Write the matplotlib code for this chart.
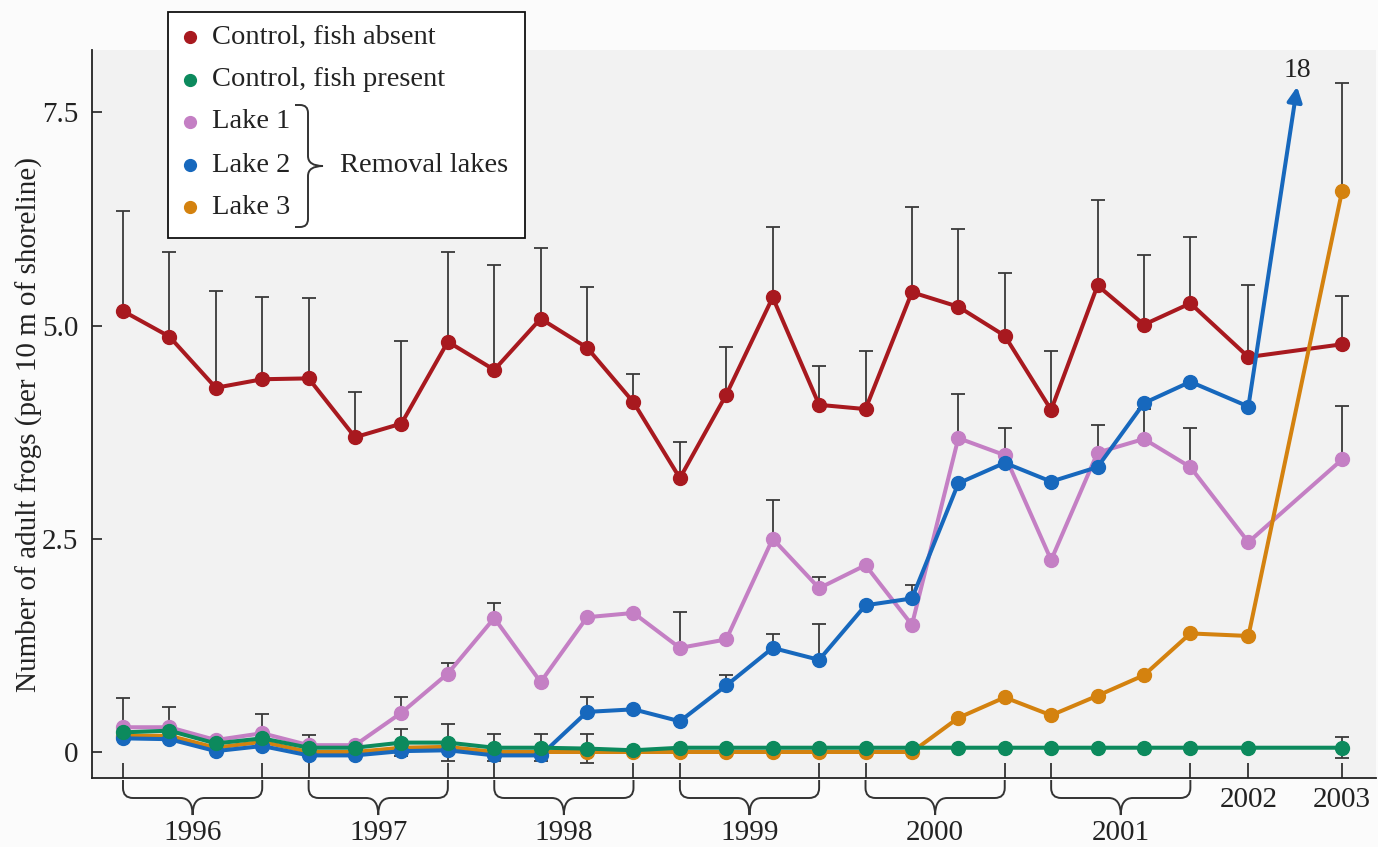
import numpy as np
import matplotlib
matplotlib.use("Agg")
import matplotlib.pyplot as plt
from matplotlib.path import Path
from matplotlib.patches import PathPatch, Rectangle

plt.rcParams['font.family'] = ['Liberation Serif', 'DejaVu Serif']

# survey positions along the time axis (4 surveys a year 1996-2001, then 2002, 2003)
surveys_per_year = [4, 4, 4, 4, 4, 4, 1, 1]
years = ['1996', '1997', '1998', '1999', '2000', '2001', '2002', '2003']
survey_x = list(range(24)) + [24.25, 26.27]

nan = np.nan

# Control, fish absent
ctrl_absent = [5.17, 4.87, 4.27, 4.37, 4.38, 3.69, 3.85, 4.81, 4.48, 5.08, 4.74, 4.10, 3.21,
               4.19, 5.33, 4.07, 4.02, 5.39, 5.22, 4.88, 4.01, 5.47, 5.01, 5.26, 4.63, 4.78]
ctrl_absent_top = [6.34, 5.86, 5.40, 5.33, 5.32, 4.22, 4.82, 5.86, 5.71, 5.91, 5.45, 4.43, 3.63,
                   4.75, 6.16, 4.52, 4.70, 6.39, 6.13, 5.61, 4.70, 6.47, 5.83, 6.04, 5.48, 5.35]

# Control, fish present
ctrl_present = [0.23, 0.25, 0.10, 0.16, 0.05, 0.05, 0.11, 0.11, 0.05, 0.05, 0.04, 0.02, 0.05,
                0.05, 0.05, 0.05, 0.05, 0.05, 0.05, 0.05, 0.05, 0.05, 0.05, 0.05, 0.05, 0.05]
ctrl_present_se = [nan, nan, nan, nan, nan, nan, 0.16, 0.22, 0.16, 0.16, 0.17, nan, nan,
                   nan, nan, nan, nan, nan, nan, nan, nan, nan, nan, nan, nan, 0.12]

# Removal lakes
lake1 = [0.29, 0.29, 0.14, 0.22, 0.08, 0.08, 0.46, 0.92, 1.57, 0.82, 1.58, 1.63, 1.22,
         1.32, 2.50, 1.92, 2.19, 1.49, 3.68, 3.48, 2.25, 3.51, 3.67, 3.34, 2.46, 3.43]
lake1_top = [0.63, 0.53, nan, 0.44, 0.20, nan, 0.65, 1.04, 1.75, nan, nan, nan, 1.64,
             nan, 2.95, 2.05, nan, nan, 4.20, 3.80, nan, 3.83, 4.02, 3.80, nan, 4.06]

lake2 = [0.16, 0.15, 0.01, 0.07, -0.04, -0.04, 0.01, 0.02, -0.04, -0.04, 0.47, 0.50, 0.36,
         0.78, 1.22, 1.08, 1.72, 1.80, 3.15, 3.39, 3.17, 3.34, 4.09, 4.34, 4.05, 18]
lake2_top = [nan, nan, nan, nan, nan, nan, nan, nan, nan, nan, 0.65, nan, nan,
             0.90, 1.38, 1.50, nan, 1.96, nan, nan, nan, nan, nan, nan, nan, nan]

lake3 = [0.19, 0.19, 0.05, 0.12, 0.00, 0.00, 0.05, 0.06, 0.00, 0.00, 0.00, 0.00, 0.00,
         0.00, 0.00, 0.00, 0.00, 0.00, 0.40, 0.64, 0.43, 0.66, 0.90, 1.39, 1.36, 6.58]
lake3_top = [nan] * 25 + [7.84]

RED = '#a8191f'
GREEN = '#0c8a5d'
PINK = '#c47fc4'
BLUE = '#1768bd'
ORANGE = '#d4820f'
ERR = '#3a3a3a'

W, H = 1378, 847
fig = plt.figure(figsize=(W / 100, H / 100), dpi=100, facecolor='#fbfbfb')
ax = fig.add_axes([92 / W, 1 - 778 / H, (1376 - 92) / W, (778 - 50) / H])
ax.set_facecolor('#f2f2f2')
ax.set_xlim(-0.668, 27.0)
ax.set_ylim(-0.305, 8.23)

x = np.array(survey_x)


def err_up(vals, tops, z):
    vals, tops = np.array(vals), np.array(tops)
    m = ~np.isnan(tops)
    ax.errorbar(x[m], vals[m], yerr=[np.zeros(m.sum()), tops[m] - vals[m]], fmt='none',
                ecolor=ERR, elinewidth=1.3, capsize=5, capthick=1.3, zorder=z)


err_up(ctrl_absent, ctrl_absent_top, 1)
err_up(lake1, lake1_top, 1)
err_up(lake2, lake2_top, 1)
err_up(lake3, lake3_top, 1)
se = np.array(ctrl_present_se)
m = ~np.isnan(se)
ax.errorbar(x[m], np.array(ctrl_present)[m], yerr=se[m], fmt='none', ecolor=ERR,
            elinewidth=1.3, capsize=5, capthick=1.3, zorder=1)

style = dict(lw=2.9, marker='o', ms=10, solid_joinstyle='round')
ax.plot(x, ctrl_absent, color=RED, zorder=2, **style)
ax.plot(x, lake1, color=PINK, zorder=3, **style)
ax.plot(x, lake3, color=ORANGE, zorder=4, **style)
ax.plot(x[:-1], lake2[:-1], color=BLUE, zorder=5, **style)
ax.plot(x, ctrl_present, color=GREEN, zorder=6, **style)

# Lake 2 in 2003 is off the scale: arrow with its value
arrow_x = x[-2] + 0.52 * (x[-1] - x[-2])
ax.annotate('', xy=(arrow_x, 7.8), xytext=(x[-2], lake2[-2]),
            arrowprops=dict(arrowstyle='-|>', color=BLUE, lw=2.9, mutation_scale=22,
                            shrinkA=0, shrinkB=0), zorder=5)
ax.text(arrow_x, 7.99, f'{lake2[-1]:g}', ha='center', va='center', fontsize=20, color='#222222')

# axes styling
for s in ['top', 'right']:
    ax.spines[s].set_visible(False)
for s in ['left', 'bottom']:
    ax.spines[s].set_linewidth(1.3)
    ax.spines[s].set_color('#222222')

ax.set_yticks([0, 2.5, 5.0, 7.5])
ax.set_yticklabels(['0', '2.5', '5.0', '7.5'])
ax.tick_params(axis='y', direction='in', length=7, width=1.2, pad=10,
               labelsize=21, colors='#222222')

# year boundaries as ticks on the x axis
starts = np.cumsum([0] + surveys_per_year[:-1])
ends = starts + np.array(surveys_per_year) - 1
tick_x = sorted(set(x[starts]) | set(x[ends]))
ax.set_xticks(tick_x)
ax.set_xticklabels([])
ax.tick_params(axis='x', direction='in', length=11, width=1.2, colors='#222222')

ax.set_ylabel('Number of adult frogs (per 10 m of shoreline)', fontsize=21, color='#222222')
ax.yaxis.set_label_coords(-0.038, 0.485)

# overlay in pixel units for braces and the key
ov = fig.add_axes([0, 0, 1, 1], zorder=10)
ov.set_xlim(0, W)
ov.set_ylim(H, 0)
ov.axis('off')
ov.patch.set_alpha(0)


def brace(length, mid, tip, r, c):
    # curly brace along u (0..length), bulging to v=tip in the middle
    L = length
    h = L / 2
    verts = [(0, 0), (0, mid - r), (0, mid), (r, mid), (h - c, mid), (h, mid), (h, tip),
             (h, mid), (h + c, mid), (L - r, mid), (L, mid), (L, mid - r), (L, 0)]
    codes = [Path.MOVETO, Path.LINETO, Path.CURVE3, Path.CURVE3, Path.LINETO,
             Path.CURVE3, Path.CURVE3, Path.CURVE3, Path.CURVE3, Path.LINETO,
             Path.CURVE3, Path.CURVE3, Path.LINETO]
    return np.array(verts, float), codes


def to_px(xd):
    dx, dy = ax.transData.transform((xd, ax.get_ylim()[0]))
    return dx, H - dy


for i, yr in enumerate(years):
    x0, y_axis = to_px(x[starts[i]])
    x1, _ = to_px(x[ends[i]])
    if surveys_per_year[i] > 1:
        v, codes = brace(x1 - x0, 18, 35, 10, 12)
        pts = np.column_stack([x0 + v[:, 0], y_axis + 2 + v[:, 1]])
        ov.add_patch(PathPatch(Path(pts, codes), fill=False, lw=1.4, ec='#333333'))
        ov.text((x0 + x1) / 2, y_axis + 55, yr, ha='center', va='center', fontsize=21,
                color='#222222')
    else:
        ov.text(x0, y_axis + 22, yr, ha='center', va='center', fontsize=21, color='#222222')

# key
ov.add_patch(Rectangle((168, 12), 357, 226, fc='white', ec='#111111', lw=1.3))
key_labels = ['Control, fish absent', 'Control, fish present', 'Lake 1', 'Lake 2', 'Lake 3']
key_colors = [RED, GREEN, PINK, BLUE, ORANGE]
key_y = [37, 80, 122, 165, 207]
for lab, col, yy in zip(key_labels, key_colors, key_y):
    ov.plot([190], [yy], 'o', ms=8.5, color=col)
    ov.text(212, yy, lab, ha='left', va='center', fontsize=20.5, color='#222222')

v, codes = brace(122, 13, 28, 8, 10)
pts = np.column_stack([295 + v[:, 1], 105 + v[:, 0]])
ov.add_patch(PathPatch(Path(pts, codes), fill=False, lw=1.4, ec='#333333'))
ov.text(340, 165, 'Removal lakes', ha='left', va='center', fontsize=20.5, color='#222222')

fig.savefig('out.png', dpi=100, facecolor=fig.get_facecolor())
